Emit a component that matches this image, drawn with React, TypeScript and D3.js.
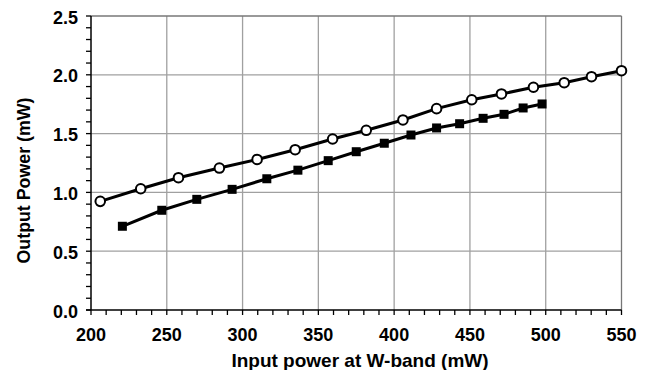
import React from "react";
import * as d3 from "d3";

const circleX = [206.1, 232.8, 257.7, 284.7, 309.6, 334.7, 359.4, 381.6, 405.8, 428.0, 451.2, 470.8, 491.9, 512.2, 530.2, 550.0];
const circleY = [0.924, 1.031, 1.125, 1.207, 1.280, 1.363, 1.454, 1.528, 1.616, 1.712, 1.788, 1.837, 1.894, 1.933, 1.984, 2.035];
const squareX = [220.7, 246.7, 269.8, 293.1, 316.0, 336.5, 356.5, 375.0, 393.5, 411.1, 428.0, 443.2, 458.7, 472.5, 485.1, 497.6];
const squareY = [0.712, 0.848, 0.941, 1.026, 1.116, 1.189, 1.270, 1.346, 1.418, 1.488, 1.548, 1.584, 1.630, 1.664, 1.718, 1.752];

const xTicks = [200, 250, 300, 350, 400, 450, 500, 550];
const yTicks = [0.0, 0.5, 1.0, 1.5, 2.0, 2.5];
const xTitle = "Input power at W-band (mW)";
const yTitle = "Output Power (mW)";

export default function App() {
  const W = 647, H = 370;
  const L = 91, R = 621.5, T = 16, B = 310;
  const x = d3.scaleLinear().domain([200, 550]).range([L, R]);
  const y = d3.scaleLinear().domain([0, 2.5]).range([B, T]);
  const xMinor = d3.range(200, 551, 10);
  const yMinor = d3.range(0, 25.01, 1).map((v) => v / 10);
  const line = d3.line<[number, number]>().x((d) => x(d[0])).y((d) => y(d[1]));
  const cData: [number, number][] = circleX.map((v, i) => [v, circleY[i]]);
  const sData: [number, number][] = squareX.map((v, i) => [v, squareY[i]]);
  const font = "Arial, 'Liberation Sans', Helvetica, sans-serif";
  return (
    <svg width={W} height={H} style={{ position: "absolute", left: 0, top: 0, background: "#fff" }}>
      <rect x={0} y={0} width={W} height={H} fill="#fff" />
      {xTicks.slice(1, -1).map((t) => (
        <line key={"gx" + t} x1={x(t)} x2={x(t)} y1={T} y2={B} stroke="#a0a0a0" strokeWidth={1.3} />
      ))}
      {yTicks.slice(1, -1).map((t) => (
        <line key={"gy" + t} x1={L} x2={R} y1={y(t)} y2={y(t)} stroke="#a0a0a0" strokeWidth={1.3} />
      ))}
      <line x1={L} x2={R} y1={T} y2={T} stroke="#777" strokeWidth={1.3} />
      <line x1={R} x2={R} y1={T} y2={B} stroke="#777" strokeWidth={1.3} />
      {xMinor.map((t) => (
        <line key={"tx" + t} x1={x(t)} x2={x(t)} y1={B} y2={B + 5} stroke="#000" strokeWidth={1.3} />
      ))}
      {yMinor.map((t) => (
        <line key={"ty" + t} x1={L - 5} x2={L} y1={y(t)} y2={y(t)} stroke="#000" strokeWidth={1.3} />
      ))}
      <line x1={L} x2={L} y1={T} y2={B} stroke="#000" strokeWidth={1.5} />
      <line x1={L - 5} x2={R} y1={B} y2={B} stroke="#000" strokeWidth={1.5} />
      {xTicks.map((t) => (
        <text key={"lx" + t} x={x(t)} y={B + 31} textAnchor="middle" fontFamily={font} fontWeight="bold" fontSize={18} fill="#000">
          {t}
        </text>
      ))}
      {yTicks.map((t) => (
        <text key={"ly" + t} x={L - 13} y={y(t)} dy="0.42em" textAnchor="end" fontFamily={font} fontWeight="bold" fontSize={18} fill="#000">
          {t.toFixed(1)}
        </text>
      ))}
      <text x={360} y={367} textAnchor="middle" fontFamily={font} fontWeight="bold" fontSize={19} fill="#000">
        {xTitle}
      </text>
      <text transform={`translate(30,180.5) rotate(-90)`} textAnchor="middle" fontFamily={font} fontWeight="bold" fontSize={17.8} fill="#000">
        {yTitle}
      </text>
      <path d={line(sData) || ""} fill="none" stroke="#000" strokeWidth={3} />
      <path d={line(cData) || ""} fill="none" stroke="#000" strokeWidth={3} />
      {sData.map((d, i) => (
        <rect key={"s" + i} x={x(d[0]) - 4.5} y={y(d[1]) - 4.5} width={9} height={9} fill="#000" />
      ))}
      {cData.map((d, i) => (
        <circle key={"c" + i} cx={x(d[0])} cy={y(d[1])} r={4.8} fill="#fff" stroke="#000" strokeWidth={2} />
      ))}
    </svg>
  );
}
